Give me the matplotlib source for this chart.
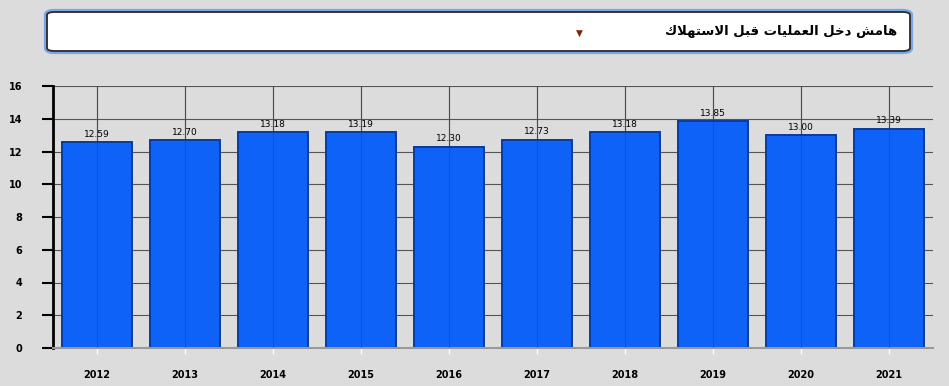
import matplotlib.pyplot as plt
from matplotlib.patches import FancyBboxPatch

# data
years = ['2012', '2013', '2014', '2015', '2016', '2017', '2018', '2019', '2020', '2021']
margin = [12.59, 12.70, 13.18, 13.19, 12.30, 12.73, 13.18, 13.85, 13.00, 13.39]
yticks = [0, 2, 4, 6, 8, 10, 12, 14, 16]
title = 'هامش دخل العمليات قبل الاستهلاك'

# simple arabic shaping (matplotlib has no shaping engine)
FORMS = {  # isolated, final, initial, medial
    'ا': (0xFE8D, 0xFE8E, None, None),
    'د': (0xFEA9, 0xFEAA, None, None),
    'ب': (0xFE8F, 0xFE90, 0xFE91, 0xFE92),
    'ت': (0xFE95, 0xFE96, 0xFE97, 0xFE98),
    'خ': (0xFEA5, 0xFEA6, 0xFEA7, 0xFEA8),
    'س': (0xFEB1, 0xFEB2, 0xFEB3, 0xFEB4),
    'ش': (0xFEB5, 0xFEB6, 0xFEB7, 0xFEB8),
    'ع': (0xFEC9, 0xFECA, 0xFECB, 0xFECC),
    'ق': (0xFED5, 0xFED6, 0xFED7, 0xFED8),
    'ك': (0xFED9, 0xFEDA, 0xFEDB, 0xFEDC),
    'ل': (0xFEDD, 0xFEDE, 0xFEDF, 0xFEE0),
    'م': (0xFEE1, 0xFEE2, 0xFEE3, 0xFEE4),
    'ه': (0xFEE9, 0xFEEA, 0xFEEB, 0xFEEC),
    'ي': (0xFEF1, 0xFEF2, 0xFEF3, 0xFEF4),
}


def shape_word(w):
    out = []
    i = 0
    prev_joins = False
    while i < len(w):
        c = w[i]
        if c == 'ل' and i + 1 < len(w) and w[i + 1] == 'ا':
            out.append(chr(0xFEFC if prev_joins else 0xFEFB))
            prev_joins = False
            i += 2
            continue
        f = FORMS[c]
        nxt = i + 1 < len(w)
        can_left = f[2] is not None
        if prev_joins and nxt and can_left:
            g = f[3]
        elif prev_joins:
            g = f[1]
        elif nxt and can_left:
            g = f[2]
        else:
            g = f[0]
        out.append(chr(g))
        prev_joins = can_left
        i += 1
    return ''.join(out)


def shape(text):
    return ' '.join(shape_word(w) for w in text.split(' '))[::-1]


bg = '#dcdcdc'
fig = plt.figure(figsize=(9.49, 3.86), dpi=100, facecolor=bg)
ax = fig.add_axes([53 / 949, 1 - 348 / 386, 880 / 949, 262 / 386])
ax.set_facecolor(bg)

# title box
W, H = 949, 386
glow = FancyBboxPatch((47 / W, 1 - 51 / H), 863 / W, 39 / H,
                      boxstyle='round,pad=0,rounding_size=0.008',
                      transform=fig.transFigure, facecolor='none',
                      edgecolor='#7aa6e6', linewidth=4.5, zorder=1)
box = FancyBboxPatch((47 / W, 1 - 51 / H), 863 / W, 39 / H,
                     boxstyle='round,pad=0,rounding_size=0.008',
                     transform=fig.transFigure, facecolor='white',
                     edgecolor='#2a2a2a', linewidth=1.3, zorder=2)
fig.patches.extend([glow, box])
fig.text(897 / W, 1 - 31 / H, shape(title), ha='right', va='center',
         fontsize=9.5, fontweight='bold', family='DejaVu Sans', zorder=3)
fig.text(579 / W, 1 - 33 / H, '▼', ha='center', va='center', fontsize=6.5,
         color='#7a2800', zorder=3)

x = list(range(len(years)))
ax.bar(x, margin, width=0.8, color='#0f62f8', edgecolor='#0a3a9c',
       linewidth=1.4, zorder=2)
for xi, v in zip(x, margin):
    ax.text(xi, v + 0.2, f'{v:.2f}', ha='center', va='bottom',
            fontsize=6.5, color='black', zorder=4)

ax.set_xlim(-0.5, len(years) - 0.5)
ax.set_ylim(0, 16)
ax.set_yticks(yticks)
ax.set_yticklabels([str(t) for t in yticks], fontsize=7, fontweight='bold')
ax.set_xticks(x)
ax.set_xticklabels(years, fontsize=7, fontweight='bold')

ax.yaxis.grid(True, color='#555555', linewidth=0.8, zorder=1)
ax.set_axisbelow(True)
for xi in x:
    ax.axvline(xi, color='#555555', linewidth=0.8, zorder=1)
    ax.axvline(xi, color='#0a3a9c', linewidth=0.8, alpha=0.35, zorder=3)

for s in ['top', 'right']:
    ax.spines[s].set_visible(False)
ax.spines['left'].set_color('black')
ax.spines['left'].set_linewidth(2)
ax.spines['bottom'].set_color('#999999')
ax.spines['bottom'].set_linewidth(1.5)
ax.tick_params(axis='y', length=8, width=1.5, color='black', pad=14)
ax.tick_params(axis='x', length=4, width=1, color='white', pad=12)

fig.savefig('out.png', dpi=100, facecolor=bg)
